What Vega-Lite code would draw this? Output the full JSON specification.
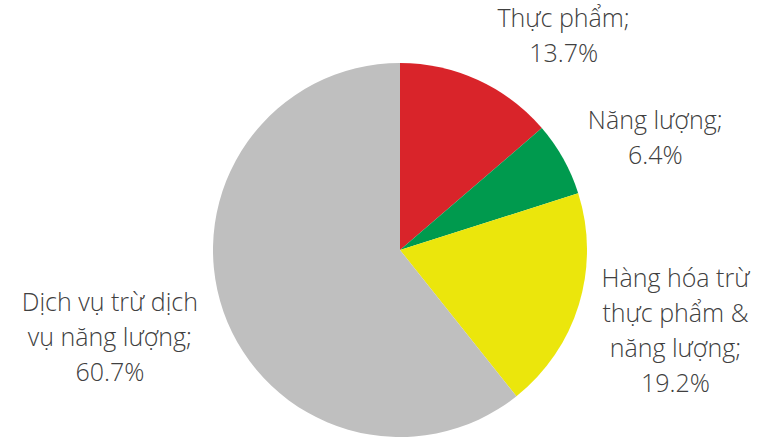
{
  "$schema": "https://vega.github.io/schema/vega-lite/v6.json",
  "autosize": "none",
  "width": 720,
  "height": 380,
  "padding": {"left": 40, "top": 60, "right": 0, "bottom": 0},
  "background": "white",
  "data": {"values": [
    {"k": "tp", "cat": "Thực phẩm", "label": "Thực phẩm;\n13.7%", "value": 13.7, "order": 1},
    {"k": "nl", "cat": "Năng lượng", "label": "Năng lượng;\n6.4%", "value": 6.4, "order": 2},
    {"k": "hh", "cat": "Hàng hóa trừ thực phẩm & năng lượng", "label": "Hàng hóa trừ\nthực phẩm &\nnăng lượng;\n19.2%", "value": 19.2, "order": 3},
    {"k": "dv", "cat": "Dịch vụ trừ dịch vụ năng lượng", "label": "Dịch vụ trừ dịch\nvụ năng lượng;\n60.7%", "value": 60.7, "order": 4}
  ]},
  "encoding": {
    "theta": {"field": "value", "type": "quantitative", "stack": true},
    "order": {"field": "order", "type": "quantitative"}
  },
  "layer": [
    {
      "mark": {"type": "arc", "outerRadius": 187},
      "encoding": {
        "color": {"field": "cat", "type": "nominal", "legend": null,
          "scale": {"domain": ["Thực phẩm", "Năng lượng", "Hàng hóa trừ thực phẩm & năng lượng", "Dịch vụ trừ dịch vụ năng lượng"],
                    "range": ["#D9242A", "#009A4E", "#EBE60C", "#BFBFBF"]}}
      }
    },
    {
      "mark": {"type": "text", "radius": 283, "thetaOffset": 0.186, "fontSize": 25, "font": "Open Sans", "fontWeight": 300, "color": "#404040", "lineBreak": "\n", "lineHeight": 35, "align": "center", "baseline": "middle"},
      "encoding": {"text": {"condition": {"test": "datum.k == 'tp'", "field": "label"}, "value": ""}}
    },
    {
      "mark": {"type": "text", "radius": 286, "thetaOffset": 0.041, "fontSize": 25, "font": "Open Sans", "fontWeight": 300, "color": "#404040", "lineBreak": "\n", "lineHeight": 35, "align": "center", "baseline": "middle"},
      "encoding": {"text": {"condition": {"test": "datum.k == 'nl'", "field": "label"}, "value": ""}}
    },
    {
      "mark": {"type": "text", "radius": 277, "thetaOffset": -0.19, "fontSize": 25, "font": "Open Sans", "fontWeight": 300, "color": "#404040", "lineBreak": "\n", "lineHeight": 35, "align": "center", "baseline": "middle"},
      "encoding": {"text": {"condition": {"test": "datum.k == 'hh'", "field": "label"}, "value": ""}}
    },
    {
      "mark": {"type": "text", "radius": 295, "thetaOffset": 0.154, "fontSize": 25, "font": "Open Sans", "fontWeight": 300, "color": "#404040", "lineBreak": "\n", "lineHeight": 35, "align": "center", "baseline": "middle"},
      "encoding": {"text": {"condition": {"test": "datum.k == 'dv'", "field": "label"}, "value": ""}}
    }
  ]
}
